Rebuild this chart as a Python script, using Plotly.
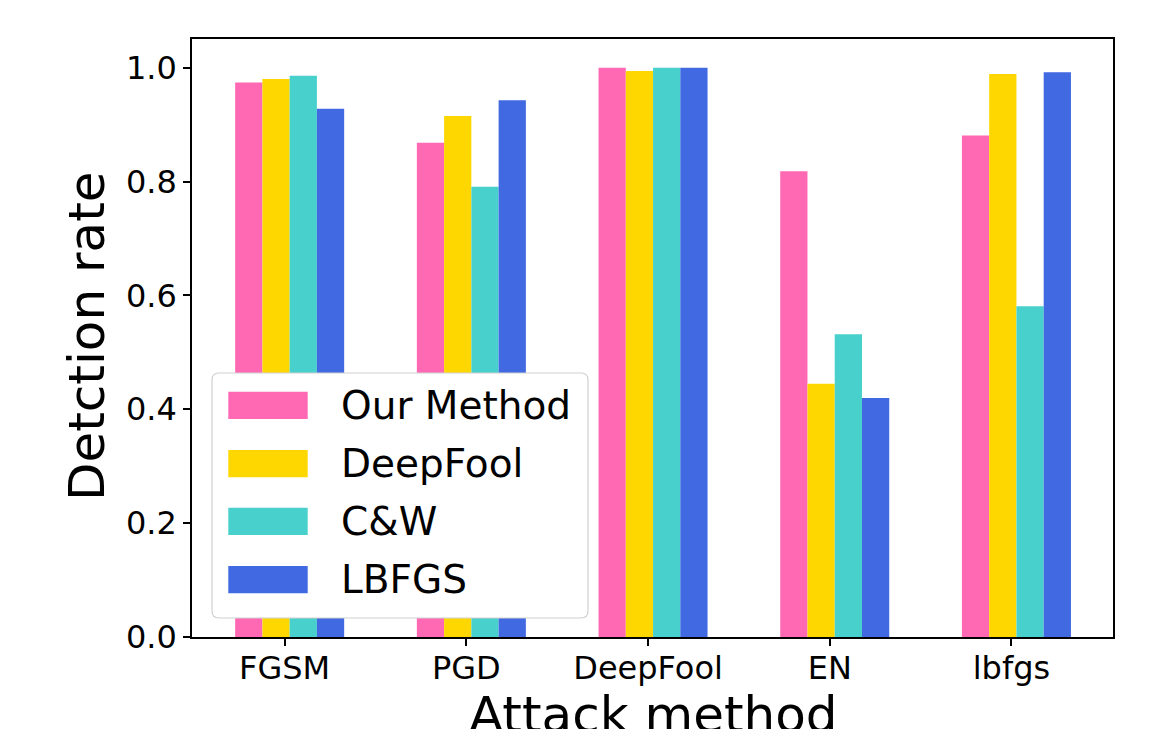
import plotly.graph_objects as go

# ---- data ----
categories = ["FGSM", "PGD", "DeepFool", "EN", "lbfgs"]
series_names = ["Our Method", "DeepFool", "C&W", "LBFGS"]
our_method = [0.974, 0.868, 1.000, 0.818, 0.881]
deepfool = [0.980, 0.915, 0.994, 0.445, 0.989]
cw = [0.986, 0.791, 1.000, 0.532, 0.581]
lbfgs = [0.928, 0.943, 1.000, 0.420, 0.992]
series_values = [our_method, deepfool, cw, lbfgs]
y_ticks = [0.0, 0.2, 0.4, 0.6, 0.8, 1.0]

colors = ["#FF69B4", "#FFD700", "#48D1CC", "#4169E1"]
FONT = "DejaVu Sans"

W, H = 1155, 729
ML, MR, MT, MB = 192, 42, 39, 92
PW, PH = W - ML - MR, H - MT - MB

BAR_W = 0.15
GROUP_SHIFT = 0.0275  # bars sit slightly right of the tick, as in the original


def px_x(px):
    return (px - ML) / PW


def px_y(py):
    return (H - MB - py) / PH


fig = go.Figure()
n = len(series_names)
for i, (name, vals, col) in enumerate(zip(series_names, series_values, colors)):
    fig.add_trace(go.Bar(
        x=categories, y=vals, name=name,
        width=BAR_W, offset=GROUP_SHIFT - n * BAR_W / 2 + i * BAR_W,
        marker=dict(color=col, line=dict(width=0)),
        showlegend=False,
    ))

# ---- manual legend (matplotlib style) ----
shapes = []
annotations = []
bx0, bx1, by0, by1, r = 212, 588, 373, 618, 7
x0, x1 = px_x(bx0), px_x(bx1)
y0, y1 = px_y(by1), px_y(by0)
rx, ry = r / PW, r / PH
path = (f"M {x0+rx},{y0} L {x1-rx},{y0} Q {x1},{y0} {x1},{y0+ry} "
        f"L {x1},{y1-ry} Q {x1},{y1} {x1-rx},{y1} L {x0+rx},{y1} "
        f"Q {x0},{y1} {x0},{y1-ry} L {x0},{y0+ry} Q {x0},{y0} {x0+rx},{y0} Z")
shapes.append(dict(type="path", path=path, xref="paper", yref="paper",
                   fillcolor="white", line=dict(color="#d0d0d0", width=1.2),
                   layer="above"))
row_tops = [391.7, 450, 507.7, 566]
for name, col, top in zip(series_names, colors, row_tops):
    shapes.append(dict(type="rect", xref="paper", yref="paper",
                       x0=px_x(228.3), x1=px_x(307.7),
                       y0=px_y(top + 27.3), y1=px_y(top),
                       fillcolor=col, line=dict(width=0), layer="above"))
    annotations.append(dict(text=name, x=px_x(339), y=px_y(top + 13.6),
                            xref="paper", yref="paper", xanchor="left",
                            yanchor="middle", showarrow=False,
                            font=dict(family=FONT, size=39, color="black")))

# axis titles
annotations.append(dict(text="Detction rate", x=px_x(87), y=px_y(336),
                        xref="paper", yref="paper", textangle=-90,
                        xanchor="center", yanchor="middle", showarrow=False,
                        font=dict(family=FONT, size=50, color="black")))
annotations.append(dict(text="Attack method", x=px_x(653), y=px_y(684),
                        xref="paper", yref="paper", xanchor="center",
                        yanchor="top", showarrow=False,
                        font=dict(family=FONT, size=50, color="black")))

fig.update_layout(
    width=W, height=H,
    margin=dict(l=ML, r=MR, t=MT, b=MB),
    paper_bgcolor="white", plot_bgcolor="white",
    barmode="overlay",
    font=dict(family=FONT, color="black"),
    shapes=shapes, annotations=annotations,
    xaxis=dict(range=[-0.510, 4.559], showline=True, mirror=True,
               linecolor="black", linewidth=1.5, ticks="outside", ticklen=7,
               tickwidth=1.5, tickcolor="black", showgrid=False,
               ticklabelstandoff=-5,
               tickfont=dict(family=FONT, size=32, color="black")),
    yaxis=dict(range=[0, 1.0504], showline=True, mirror=True,
               linecolor="black", linewidth=1.5, ticks="outside", ticklen=7,
               tickwidth=1.5, tickcolor="black", showgrid=False, zeroline=False,
               tickvals=y_ticks, tickformat=".1f",
               tickfont=dict(family=FONT, size=32, color="black")),
)

fig.write_html("out.html")
